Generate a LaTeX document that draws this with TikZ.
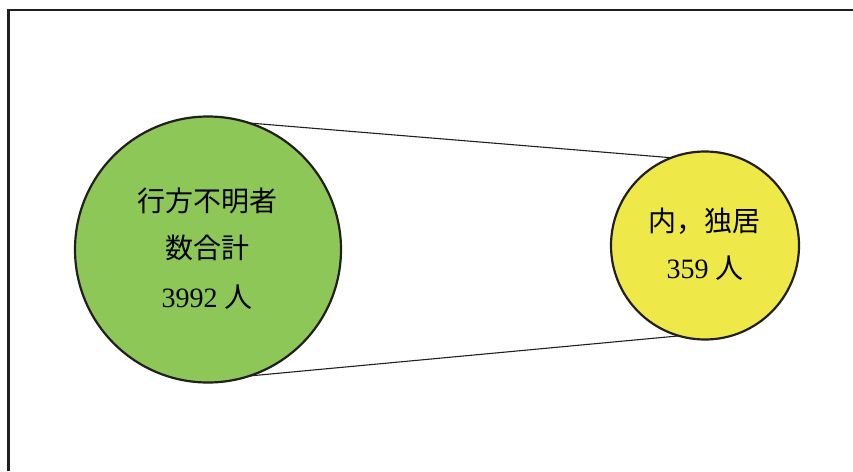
\documentclass[tikz,border=0pt]{standalone}
\usepackage{fontspec}
\setmainfont{Liberation Serif}
\newfontfamily\cjk{Noto Sans CJK JP}
\definecolor{gfill}{RGB}{141,199,88}
\definecolor{yfill}{RGB}{238,233,72}
\definecolor{edge}{RGB}{35,31,32}
\begin{document}
\begin{tikzpicture}[x=1pt,y=-1pt,
  bubble/.style={circle,draw=edge,line width=2.2pt,inner sep=0pt,outer sep=0pt},
  lbl/.style={font=\fontsize{28}{32}\selectfont,inner sep=0pt,anchor=center},
  link/.style={draw=edge,line width=1.1pt}]
\useasboundingbox (0,0) rectangle (853,471);
\draw[edge,line width=2.4pt] (8.5,471) -- (8.5,10) -- (853,10);
\node[bubble,fill=gfill,minimum size=266pt] (g) at (208,249.5) {};
\node[bubble,fill=yfill,minimum size=188pt] (y) at (705,245.5) {};
\draw[link] (g.72) -- (y.111);
\draw[link] (g.-72) -- (y.-106);
\node[lbl] (g1) at (207,201) {\cjk 行方不明者};
\node[lbl] (g2) at (207,248) {\cjk 数合計};
\node[lbl] (g3) at (207,297) {3992 {\cjk 人}};
\node[lbl] (y1) at (704,221) {\cjk 内，独居};
\node[lbl] (y2) at (705,268) {359 {\cjk 人}};
\end{tikzpicture}
\end{document}
